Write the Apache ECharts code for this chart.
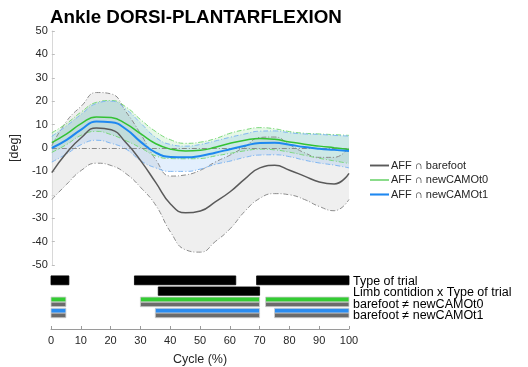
<!DOCTYPE html>
<html><head><meta charset="utf-8">
<script src="https://cdn.jsdelivr.net/npm/echarts@6/dist/echarts.min.js"></script>
<style>html,body{margin:0;padding:0;background:#fff}#c{width:528px;height:367px}</style>
</head><body><div id="c"></div>
<script>
// ---- data ----
const cycle = [0,5,10,15,20,25,30,35,40,45,50,55,60,65,70,75,80,85,90,95,100];
const barefootMean  = [-10.5,-2,4.5,8.6,7.8,2.2,-5.6,-14.8,-24,-27.7,-26.9,-23,-18.7,-13.2,-8.5,-7.4,-9.5,-12,-14.5,-15.4,-10.8];
const barefootUpper = [1,11.5,18,23.7,23.1,15.4,5.8,-5,-12,-11.5,-9.5,-6,-3,0.6,4.5,4.7,1.4,-2,-4,-4,0.4];
const barefootLower = [-22,-15.5,-9.5,-6.5,-7.5,-11,-17,-24.5,-36,-43.5,-44.5,-40,-34.5,-27,-21.5,-19.5,-20,-22,-25,-26.8,-22];
const t0Mean  = [2.3,6,10.5,13.3,13,10.3,6,1.8,-0.5,-1.3,-1,0.3,2,3.3,4.1,3.7,2.6,1.6,0.8,0.1,-0.6];
const t0Upper = [6.5,10.5,15.5,19.5,20.3,17.5,12,7,3.5,2,2.5,4,6.3,7.8,8.7,8.2,7,6.3,6,5.7,5.4];
const t0Lower = [-1.9,1.5,5.5,7.1,5.7,3.1,0,-3.4,-4.5,-4.6,-4.5,-3.4,-2.3,-1.2,-0.5,-0.8,-1.8,-3.1,-4.4,-5.5,-6.6];
const t1Mean  = [0,3.5,8,11.3,11,8,2.5,-2,-3.8,-4,-3.4,-2,-0.5,1,2.1,2.2,1.4,0.4,-0.3,-0.8,-1.3];
const t1Upper = [5,9.5,14.5,19,20,16.5,10.5,4.5,1.5,0.8,1.5,3,4.6,6,7.2,7.3,6.5,6,5.8,5.4,5.1];
const t1Lower = [-6,-2.5,1.5,3.3,2,-0.5,-5.5,-8.5,-10,-10,-9,-7,-5.6,-4,-3,-2.9,-3.7,-5.2,-6.4,-7.3,-8.5];

const typeOfTrial   = [[0,6],[28,62],[69,100]];
const limbXType     = [[36,70]];
const bfVsT0        = [[0,5],[30,70],[72,100]];
const bfVsT1        = [[0,5],[35,70],[75,100]];

const yTicks = [-50,-40,-30,-20,-10,0,10,20,30,40,50];
const xTicks = [0,10,20,30,40,50,60,70,80,90,100];
const names = ['AFF \u2229 barefoot','AFF \u2229 newCAMOt0','AFF \u2229 newCAMOt1'];
const rowLabels = ['Type of trial','Limb contidion x Type of trial','barefoot \u2260 newCAMOt0','barefoot \u2260 newCAMOt1'];

// ---- helpers ----
const FONT = 'Liberation Sans, Arial, sans-serif';
const diffs = (u,l) => u.map((v,i)=>+(v-l[i]).toFixed(3));
const DASH = [5,2,1,2];

function band(id, lower, upper, fill, edge) {
  return [
    {type:'line', xAxisIndex:0, yAxisIndex:0, stack:id, stackStrategy:'all', data:lower, smooth:true,
     symbol:'none', lineStyle:{opacity:0}, silent:true, z:1},
    {type:'line', xAxisIndex:0, yAxisIndex:0, stack:id, stackStrategy:'all', data:diffs(upper,lower), smooth:true,
     symbol:'none', lineStyle:{opacity:0}, areaStyle:{color:fill, opacity:1}, silent:true, z:1},
    {type:'line', xAxisIndex:0, yAxisIndex:0, data:upper, smooth:true, symbol:'none',
     lineStyle:{color:edge, width:1, type:DASH}, silent:true, z:2},
    {type:'line', xAxisIndex:0, yAxisIndex:0, data:lower, smooth:true, symbol:'none',
     lineStyle:{color:edge, width:1, type:DASH}, silent:true, z:2}
  ];
}

// bar rows: [segments, centre value, height value, colour]
const rows = [
  {segs:typeOfTrial, c:49.5, h:9,   color:'#000000', border:'#000'},
  {segs:limbXType,   c:38.5, h:8.5, color:'#000000', border:'#000'},
  {segs:bfVsT0,      c:30,   h:5,   color:'#33cc33', border:'#d0d0d0'},
  {segs:bfVsT0,      c:25,   h:4.6, color:'#6b6b6b', border:'#d0d0d0'},
  {segs:bfVsT1,      c:18.5, h:5,   color:'#2b8cf0', border:'#d0d0d0'},
  {segs:bfVsT1,      c:13.8, h:4.7, color:'#6b6b6b', border:'#d0d0d0'}
];
const barSeries = rows.map(r => ({
  type:'custom', xAxisIndex:1, yAxisIndex:1, silent:true,
  data: r.segs.map(s => [s[0], s[1], r.c]),
  renderItem: (params, api) => {
    const a = api.coord([api.value(0), api.value(2)]);
    const b = api.coord([api.value(1), api.value(2)]);
    const hh = api.size([0, r.h])[1];
    return {type:'rect', shape:{x:a[0], y:a[1]-hh/2, width:b[0]-a[0], height:hh},
            style:{fill:r.color, stroke:r.border, lineWidth:0.8}};
  }
}));

const labelY = [282.5, 294, 305.3, 316.2];
const lineIcon = w => 'path://M0,0 M20,10 M0,' + (5-w/2) + ' L20,' + (5-w/2) + ' L20,' + (5+w/2) + ' L0,' + (5+w/2) + ' Z';

const chart = echarts.init(document.getElementById('c'), null, {renderer:'canvas'});
chart.setOption({
  animation:false,
  backgroundColor:'#fff',
  textStyle:{fontFamily:FONT},
  title:{text:'Ankle DORSI-PLANTARFLEXION', left:45, top:3,
         textStyle:{fontFamily:FONT, fontSize:18.8, fontWeight:'bold', color:'#000'}},
  legend:{
    data:[
      {name:names[0], icon:lineIcon(2), itemStyle:{color:'#5a5a5a'}},
      {name:names[1], icon:lineIcon(1.2), itemStyle:{color:'#33c233'}},
      {name:names[2], icon:lineIcon(2.2), itemStyle:{color:'#1e88f0'}}
    ],
    orient:'vertical', left:370, top:160, padding:0, itemWidth:19, itemHeight:10, itemGap:3.5,
    textStyle:{fontFamily:FONT, fontSize:11, color:'#262626', padding:[0,0,0,-3]}
  },
  grid:[
    {left:51, top:31, width:298, height:234},
    {left:51, top:270, width:298, height:60}
  ],
  xAxis:[
    {type:'category', gridIndex:0, data:cycle, boundaryGap:false, show:false},
    {type:'value', gridIndex:1, min:0, max:100, interval:10,
     axisLine:{lineStyle:{color:'#9a9a9a', width:1}},
     axisTick:{inside:true, length:3, lineStyle:{color:'#9a9a9a'}},
     splitLine:{show:false},
     axisLabel:{fontFamily:FONT, fontSize:11, color:'#262626', margin:6,
                formatter:v => xTicks.includes(v) ? String(v) : ''},
     name:'Cycle (%)', nameLocation:'middle', nameGap:24,
     nameTextStyle:{fontFamily:FONT, fontSize:12.5, color:'#262626'}}
  ],
  yAxis:[
    {type:'value', gridIndex:0, min:-50, max:50, interval:10,
     axisLine:{show:true, lineStyle:{color:'#d8d8d8', width:1}},
     axisTick:{show:true, inside:true, length:3, lineStyle:{color:'#bdbdbd'}},
     splitLine:{show:false},
     axisLabel:{fontFamily:FONT, fontSize:11, color:'#262626', margin:4,
                formatter:v => yTicks.includes(v) ? String(v) : ''},
     name:'[deg]', nameLocation:'middle', nameRotate:90, nameGap:23,
     nameTextStyle:{fontFamily:FONT, fontSize:12.5, color:'#262626'}},
    {type:'value', gridIndex:1, min:0, max:60, show:false}
  ],
  graphic: rowLabels.map((t,i)=>({
    type:'text', left:353, top:labelY[i]-7.5, silent:true,
    style:{text:t, font:'12.5px '+FONT, fill:'#000'}
  })),
  series:[
    ...band('bf', barefootLower, barefootUpper, 'rgba(225,225,225,0.55)', '#8c8c8c'),
    ...band('t0', t0Lower, t0Upper, 'rgba(60,200,60,0.13)', '#7ad87a'),
    ...band('t1', t1Lower, t1Upper, 'rgba(40,130,240,0.13)', '#7fb6f2'),
    {name:names[0], type:'line', xAxisIndex:0, yAxisIndex:0, data:barefootMean, smooth:true,
     symbol:'none', lineStyle:{color:'#5a5a5a', width:1.5}, itemStyle:{color:'#5a5a5a'}, z:5,
     markLine:{silent:true, symbol:'none', label:{show:false},
               lineStyle:{color:'#8a8a8a', width:1, type:[5,2,1,2]}, data:[{yAxis:0}]}},
    {name:names[1], type:'line', xAxisIndex:0, yAxisIndex:0, data:t0Mean, smooth:true,
     symbol:'none', lineStyle:{color:'#33c233', width:1.5}, itemStyle:{color:'#33c233'}, z:6},
    {name:names[2], type:'line', xAxisIndex:0, yAxisIndex:0, data:t1Mean, smooth:true,
     symbol:'none', lineStyle:{color:'#1e88f0', width:2}, itemStyle:{color:'#1e88f0'}, z:7},
    ...barSeries
  ]
});
</script></body></html>
